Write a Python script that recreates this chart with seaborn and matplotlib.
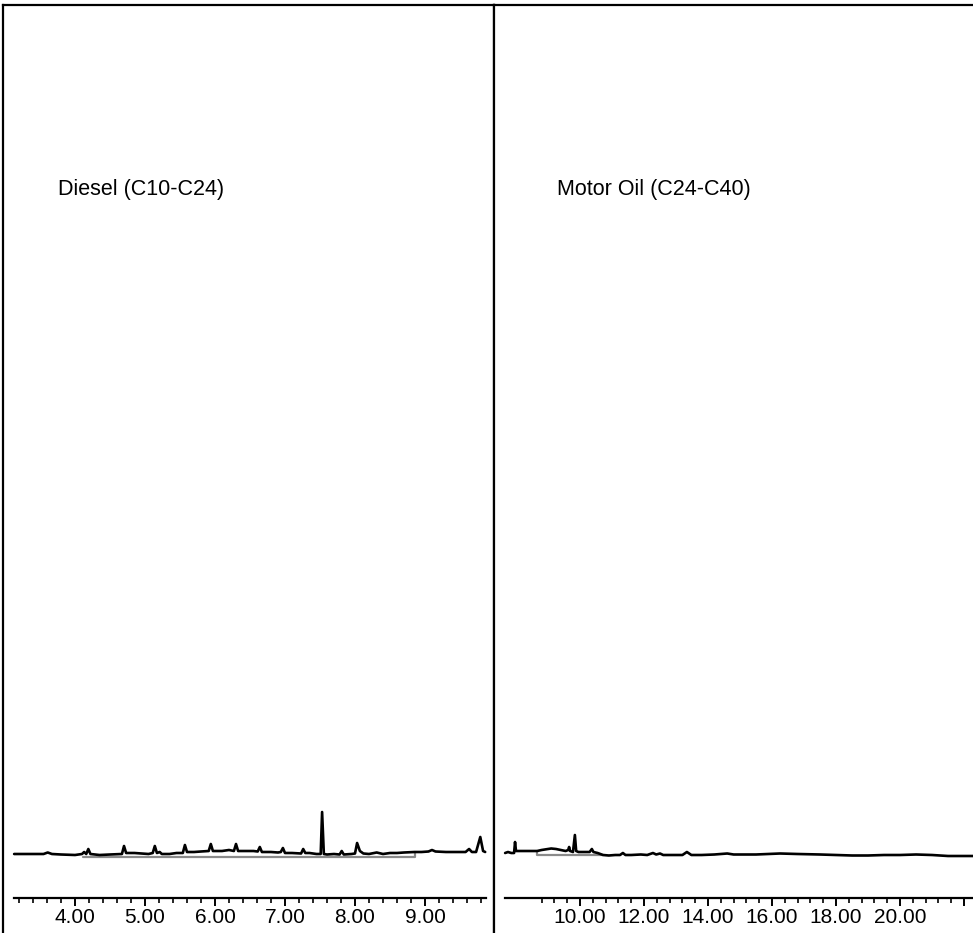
import numpy as np
import matplotlib
matplotlib.use("Agg")
import matplotlib.pyplot as plt
import seaborn as sns
from matplotlib.ticker import FixedLocator, FixedFormatter, NullFormatter

# -----------------------------
# Data (time in min, signal in arbitrary units)
# -----------------------------
diesel_time = [3.13, 3.30, 3.55, 3.61, 3.67, 3.80, 4.00, 4.10, 4.13, 4.16, 4.19, 4.22,
               4.35, 4.50, 4.67, 4.70, 4.73, 4.85, 4.95, 5.05, 5.11, 5.14, 5.17, 5.21,
               5.24, 5.35, 5.45, 5.54, 5.57, 5.60, 5.70, 5.80, 5.91, 5.94, 5.97, 6.10,
               6.20, 6.27, 6.30, 6.33, 6.45, 6.55, 6.61, 6.64, 6.67, 6.80, 6.90, 6.94,
               6.97, 7.00, 7.10, 7.23, 7.26, 7.29, 7.35, 7.45, 7.51, 7.53, 7.555, 7.60,
               7.70, 7.78, 7.81, 7.84, 7.95, 8.00, 8.03, 8.07, 8.12, 8.20, 8.31, 8.40,
               8.50, 8.60, 8.70, 8.85, 8.95, 9.05, 9.10, 9.15, 9.30, 9.45, 9.58, 9.63,
               9.67, 9.73, 9.79, 9.83, 9.86]
diesel_signal = [1, 1, 1, 2.5, 1, 0.5, 0, 1, 3, 1, 6, 1,
                 0, 0.5, 1, 9, 2, 2, 1.5, 1, 2, 9, 2, 3,
                 1, 1, 2, 2, 10, 3, 3, 3.5, 4, 11, 4, 4,
                 5, 4, 11, 4, 4, 4, 3.5, 8, 3, 3, 2.5, 3,
                 7, 2, 2, 1.5, 6, 2, 2, 1, 1, 43, 1, 0.5,
                 1, 0.5, 4, 0.5, 1, 1.5, 12, 4, 1.5, 1, 2.5, 1,
                 2, 2, 2.5, 3, 3, 3.5, 5, 3.5, 3, 3, 3, 6,
                 3, 3, 18, 4, 3]

oil_time = [7.66, 7.75, 7.85, 7.94, 7.97, 8.00, 8.10, 8.30, 8.50, 8.66, 8.80, 9.00,
            9.10, 9.25, 9.40, 9.55, 9.63, 9.66, 9.69, 9.78, 9.84, 9.88, 9.95, 10.10,
            10.30, 10.37, 10.42, 10.55, 10.72, 10.90, 11.10, 11.25, 11.34, 11.42, 11.60,
            11.90, 12.10, 12.28, 12.38, 12.50, 12.60, 12.90, 13.20, 13.34, 13.48, 13.80,
            14.20, 14.60, 14.80, 15.50, 16.25, 16.80, 17.50, 18.00, 18.50, 19.00, 19.50,
            20.00, 20.50, 21.00, 21.50, 22.00, 22.28]
oil_signal = [2, 3, 2, 2, 13, 4, 4, 4, 4, 4, 5, 6,
              6.5, 6, 5, 4, 5, 8, 4, 3, 20, 4, 3, 3,
              3, 6, 3, 2, 0, -0.5, 0, 0, 2, 0, 0,
              0.5, 0, 2, 0.5, 1.5, 0, 0, 0, 3, 0, 0,
              0.5, 1.5, 0.5, 0.5, 1.5, 1, 0.5, 0, -0.5, -0.5, 0,
              0, 0.5, 0, -1, -1, -1]

# integration baselines (grey)
diesel_base_time = [4.11, 8.86, 8.86]
diesel_base_signal = [-2, -2, 3]
oil_base_time = [8.66, 8.66, 10.72]
oil_base_signal = [4, 0, 0]

diesel_major = [4, 5, 6, 7, 8, 9]
diesel_labels = ["4.00", "5.00", "6.00", "7.00", "8.00", "9.00"]
oil_major = [10, 12, 14, 16, 18, 20, 22]
oil_labels = ["10.00", "12.00", "14.00", "16.00", "18.00", "20.00", ""]

# -----------------------------
# Figure
# -----------------------------
sns.set_style("white")
plt.rcParams['font.family'] = ['Liberation Sans', 'DejaVu Sans']

fig = plt.figure(figsize=(9.73, 9.33), dpi=100)
W, H = 973, 933
ax1 = fig.add_axes([3 / W, 0, 491 / W, 928 / H])
ax2 = fig.add_axes([494 / W, 0, 479 / W, 928 / H])

panels = [
    (ax1, diesel_time, diesel_signal, diesel_base_time, diesel_base_signal,
     (2.971, 9.986), (3.13, 9.87), diesel_major, diesel_labels,
     np.arange(3.2, 9.85, 0.2), "Diesel (C10-C24)", 3.757),
    (ax2, oil_time, oil_signal, oil_base_time, oil_base_signal,
     (7.3125, 22.28), (7.66, 22.28), oil_major, oil_labels,
     np.arange(8.8, 22.3, 0.4), "Motor Oil (C24-C40)", 9.28),
]

for ax, t, s, bt, bs, xlim, bounds, major, labels, minor, title, tx in panels:
    sns.lineplot(x=bt, y=bs, ax=ax, color="#8a8a8a", linewidth=1.6,
                 estimator=None, sort=False)
    sns.lineplot(x=t, y=s, ax=ax, color="black", linewidth=1.9,
                 estimator=None, sort=False)
    ax.set_xlim(*xlim)
    ax.set_ylim(-78, 850)
    ax.set_xlabel("")
    ax.set_ylabel("")
    ax.set_yticks([])

    ax.spines['bottom'].set_position(('data', -43))
    ax.spines['bottom'].set_bounds(*bounds)
    for sp in ax.spines.values():
        sp.set_linewidth(1.6)
        sp.set_color("black")
    ax.spines['right'].set_visible(False)

    step = major[1] - major[0]
    minor = [m for m in minor if not np.isclose(m % step, 0)
             and not np.isclose(m % step, step)]
    ax.xaxis.set_major_locator(FixedLocator(major))
    ax.xaxis.set_major_formatter(FixedFormatter(labels))
    ax.xaxis.set_minor_locator(FixedLocator(minor))
    ax.xaxis.set_minor_formatter(NullFormatter())
    ax.tick_params(axis='x', which='major', direction='out', length=6, width=1.4,
                   pad=1.5, labelsize=15, colors='black', bottom=True)
    ax.tick_params(axis='x', which='minor', direction='out', length=3.8, width=1.4,
                   bottom=True)

    ax.text(tx, 665, title, fontsize=15.5, ha='left', va='center', color='black')

ax1.spines['right'].set_visible(True)

plt.savefig("out.png", dpi=100)
plt.close()
